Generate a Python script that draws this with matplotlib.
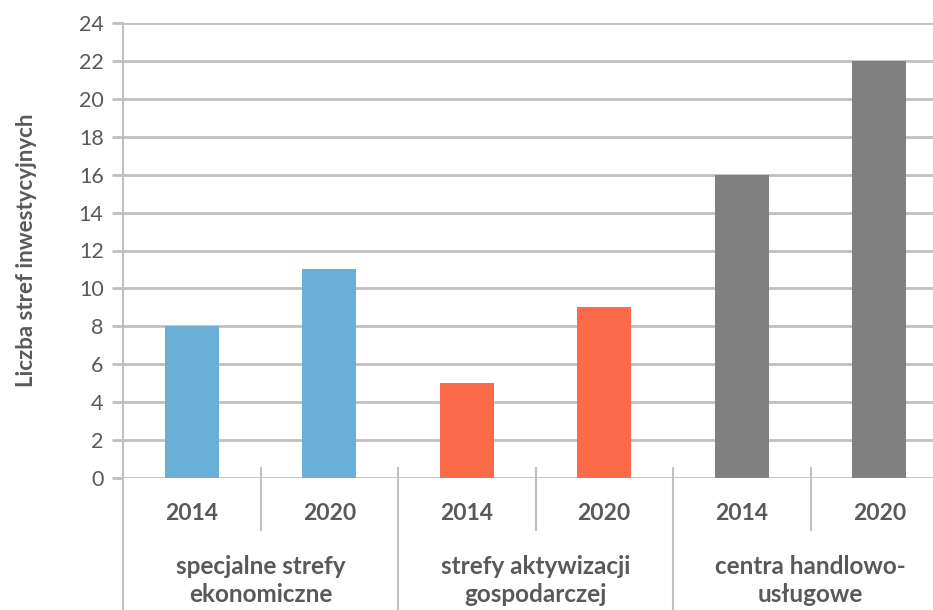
import matplotlib
matplotlib.use("Agg")
import matplotlib.pyplot as plt
import matplotlib.transforms as mtransforms

plt.rcParams['font.family'] = ['Lato', 'DejaVu Sans']

# data
groups = ["specjalne strefy\nekonomiczne", "strefy aktywizacji\ngospodarczej", "centra handlowo-\nusługowe"]
years = ["2014", "2020"]
values_ses = [8, 11]
values_saa = [5, 9]
values_chu = [16, 22]
colors = ["#6AAFD8", "#FD6A4A", "#808080"]

text_col = "#595959"
grid_col = "#C0C0C0"

fig = plt.figure(figsize=(9.33, 6.10), dpi=100)
ax = fig.add_axes([123 / 933, 132 / 610, 825 / 933, 455 / 610])

series = [values_ses, values_saa, values_chu]
x = 0
for vals, col in zip(series, colors):
    for v in vals:
        ax.bar(x, v, width=0.39, color=col, zorder=3)
        x += 1

ax.set_xlim(-0.5, 5.5)
ax.set_ylim(0, 24)
ax.set_yticks(range(0, 25, 2))
ax.yaxis.grid(True, color=grid_col, linewidth=2, zorder=0)
ax.set_axisbelow(True)
ax.set_xticks([])
for s in ["top", "right", "bottom"]:
    ax.spines[s].set_visible(False)
ax.spines["left"].set_color(grid_col)
ax.spines["left"].set_linewidth(1.5)
ax.tick_params(axis="y", length=8, width=2, color=grid_col, labelcolor=text_col,
               labelsize=15.5, pad=6)

ax.set_ylabel("Liczba stref inwestycyjnych", fontsize=16, fontweight="bold",
              color=text_col, labelpad=30)

# multi-level category axis
trans = mtransforms.blended_transform_factory(ax.transData, ax.transAxes)
ax.plot([-0.5, -0.5], [0, -0.30], transform=trans, color=grid_col, lw=1.5, clip_on=False)
for xs in [0.5, 2.5, 4.5]:
    ax.plot([xs, xs], [0.022, -0.114], transform=trans, color=grid_col, lw=1.5, clip_on=False)
for xs in [1.5, 3.5]:
    ax.plot([xs, xs], [0.022, -0.30], transform=trans, color=grid_col, lw=1.5, clip_on=False)

for i in range(6):
    ax.text(i, -0.077, years[i % 2], transform=trans, ha="center", va="center",
            fontsize=16.5, fontweight="bold", color=text_col)
for g, name in enumerate(groups):
    ax.text(2 * g + 0.5, -0.225, name, transform=trans, ha="center", va="center",
            fontsize=17.5, fontweight="bold", color=text_col, linespacing=1.3)

fig.savefig("out.png", dpi=100)
